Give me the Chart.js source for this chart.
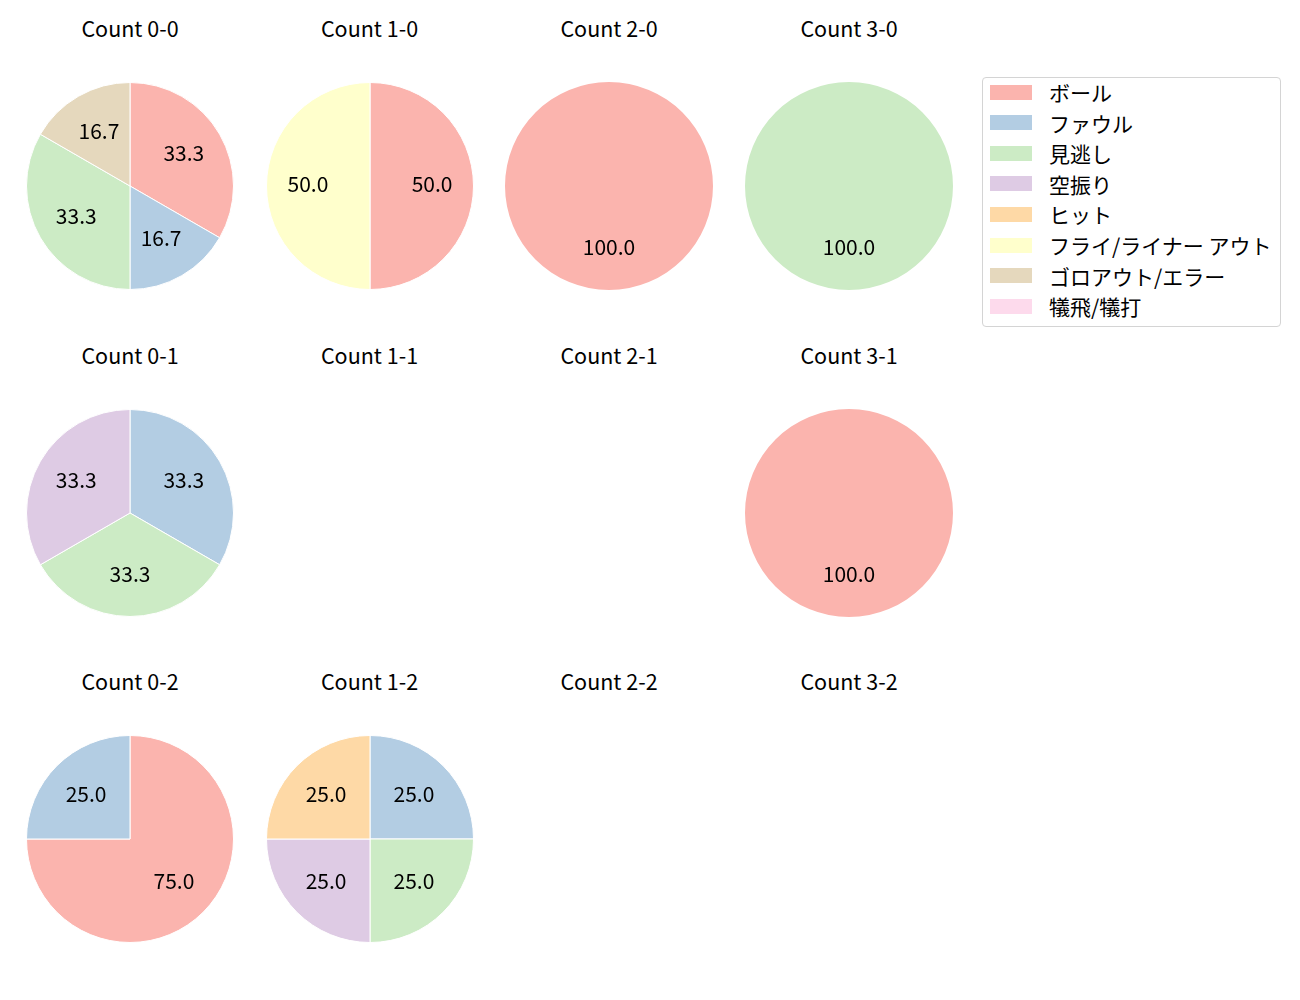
<!DOCTYPE html>
<html><head><meta charset="utf-8">
<script src="https://cdn.jsdelivr.net/npm/chart.js@4.4.0/dist/chart.umd.min.js"></script>
<style>
body{margin:0;background:#fff;width:1300px;height:1000px;position:relative;overflow:hidden;font-family:"Noto Sans CJK JP",sans-serif;color:#000}
.title{position:absolute;width:240px;text-align:center;font-size:21.5px;line-height:24px;transform:translate(-50%,-50%);white-space:nowrap}
.pie{position:absolute}
#legend{position:absolute;left:982px;top:77px;width:297px;height:248px;border:1px solid #d4d4d4;border-radius:4px;box-sizing:content-box}
.row{position:absolute;left:0;height:20px;display:flex;align-items:center}
.sw{position:absolute;left:7px;width:42px;height:15px}
.lt{position:absolute;left:66px;font-size:21px;line-height:20px;white-space:nowrap}
</style>
</head><body>
<div id="legend"></div>
<script>
const categories = ["ボール","ファウル","見逃し","空振り","ヒット","フライ/ライナー アウト","ゴロアウト/エラー","犠飛/犠打"];
const colors = ["#fbb4ae","#b3cde3","#ccebc5","#decbe4","#fed9a6","#ffffcc","#e5d8bd","#fddaec"];
const titles = ["Count 0-0","Count 1-0","Count 2-0","Count 3-0","Count 0-1","Count 1-1","Count 2-1","Count 3-1","Count 0-2","Count 1-2","Count 2-2","Count 3-2"];
const count00 = [2,1,2,0,0,0,1,0];
const count10 = [1,0,0,0,0,1,0,0];
const count20 = [1,0,0,0,0,0,0,0];
const count30 = [0,0,1,0,0,0,0,0];
const count01 = [0,1,1,1,0,0,0,0];
const count11 = [0,0,0,0,0,0,0,0];
const count21 = [0,0,0,0,0,0,0,0];
const count31 = [1,0,0,0,0,0,0,0];
const count02 = [3,1,0,0,0,0,0,0];
const count12 = [0,1,1,1,1,0,0,0];
const count22 = [0,0,0,0,0,0,0,0];
const count32 = [0,0,0,0,0,0,0,0];
const allCounts = [count00,count10,count20,count30,count01,count11,count21,count31,count02,count12,count22,count32];

const colX = [130, 369.5, 609, 849];
const rowY = [186, 512.5, 838.5];
const SIZE = 208;

const pctPlugin = {
  id: 'pct',
  afterDatasetsDraw(chart) {
    const ctx = chart.ctx;
    const meta = chart.getDatasetMeta(0);
    const data = chart.data.datasets[0].data;
    const total = data.reduce((a,b)=>a+b,0);
    ctx.save();
    ctx.font = '21px "Noto Sans CJK JP"';
    ctx.fillStyle = '#000';
    ctx.textAlign = 'center';
    ctx.textBaseline = 'middle';
    meta.data.forEach((arc, i) => {
      const p = arc.getProps(['startAngle','endAngle','outerRadius','x','y'], true);
      const mid = (p.startAngle + p.endAngle) / 2;
      const r = p.outerRadius * 0.6;
      const txt = (data[i] / total * 100).toFixed(1);
      ctx.fillText(txt, p.x + Math.cos(mid) * r, p.y + Math.sin(mid) * r - 1.5);
    });
    ctx.restore();
  }
};

allCounts.forEach((vals, k) => {
  const cx = colX[k % 4], cy = rowY[Math.floor(k / 4)];
  const t = document.createElement('div');
  t.className = 'title';
  t.textContent = titles[k];
  t.style.left = cx + 'px';
  t.style.top = (cy - 158) + 'px';
  document.body.appendChild(t);
  const idx = vals.map((v,i)=>i).filter(i => vals[i] > 0);
  if (!idx.length) return;
  const cv = document.createElement('canvas');
  cv.className = 'pie';
  cv.width = SIZE; cv.height = SIZE;
  cv.style.left = (cx - SIZE/2) + 'px';
  cv.style.top = (cy - SIZE/2) + 'px';
  cv.style.width = SIZE + 'px'; cv.style.height = SIZE + 'px';
  document.body.appendChild(cv);
  new Chart(cv, {
    type: 'pie',
    data: {
      labels: idx.map(i => categories[i]),
      datasets: [{
        data: idx.map(i => vals[i]),
        backgroundColor: idx.map(i => colors[i]),
        borderColor: '#ffffff',
        borderWidth: idx.length > 1 ? 1 : 0
      }]
    },
    options: {
      responsive: false,
      animation: false,
      layout: { padding: 0 },
      plugins: { legend: { display: false }, tooltip: { enabled: false }, title: { display: false } }
    },
    plugins: [pctPlugin]
  });
});

const lg = document.getElementById('legend');
categories.forEach((c, i) => {
  const row = document.createElement('div');
  row.className = 'row';
  row.style.top = (4 + i * 30.6) + 'px';
  row.style.width = '297px';
  row.innerHTML = '<div class="sw" style="background:' + colors[i] + '"></div><div class="lt">' + c + '</div>';
  lg.appendChild(row);
});
</script>
</body></html>
